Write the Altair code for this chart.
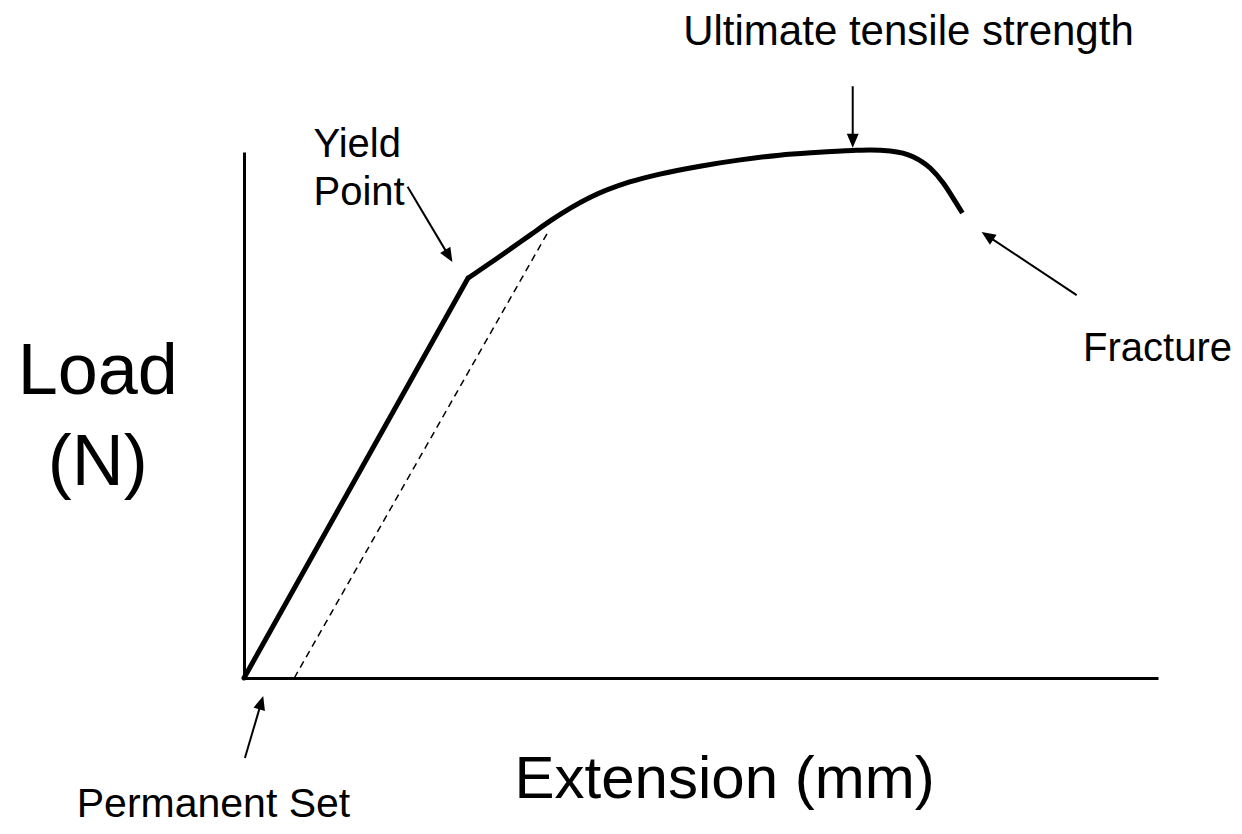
import math
import altair as alt
import pandas as pd

# ---------------- data (in chart units: extension 0-10, load 0-100) ----------------
# elastic (straight) part up to the yield point
elastic_ext = [0.0, 2.45]
elastic_load = [0.0, 76.0]
# plastic part from the yield point to fracture
plastic_ext = [2.45, 2.77, 3.13, 3.35, 3.79, 4.22, 4.55, 4.99, 5.43, 5.86,
               6.25, 6.66, 6.85, 7.07, 7.32, 7.51, 7.65, 7.76, 7.86]
plastic_load = [76.0, 79.8, 84.2, 86.9, 91.4, 94.3, 95.8, 97.3, 98.5, 99.4,
                99.9, 100.3, 100.4, 100.2, 99.1, 96.9, 94.1, 91.2, 88.4]

offset_ext = [0.55, 3.33]
offset_load = [0.0, 84.9]

arrow_names = ["Yield", "UTS", "Fracture", "Permanent"]
arrow_tail_ext = [1.79, 6.66, 9.11, 0.01]
arrow_tail_load = [93.4, 112.5, 72.8, -15.2]
arrow_tip_ext = [2.28, 6.66, 8.07, 0.21]
arrow_tip_load = [79.1, 100.8, 84.8, -3.4]

label_texts = ["Ultimate tensile strength", "Yield\nPoint", "Fracture",
               "Permanent Set", "Load\n(N)", "Extension (mm)"]
label_ext = [7.27, 0.76, 9.18, -1.83, -1.60, 2.96]
label_load = [120.3, 99.0, 60.3, -26.4, 54.0, -22.8]

# ---------------- layout ----------------
W, H = 914, 526
X_DOMAIN = [0, 10]
Y_DOMAIN = [0, 100]
PX_X = W / (X_DOMAIN[1] - X_DOMAIN[0])
PX_Y = H / (Y_DOMAIN[1] - Y_DOMAIN[0])
FONT = "Liberation Sans"

xs = alt.Scale(domain=X_DOMAIN, nice=False, zero=False)
ys = alt.Scale(domain=Y_DOMAIN, nice=False, zero=False)
ax = alt.Axis(title=None, labels=False, ticks=False, grid=False,
              domainColor="black", domainWidth=3)


def X(field):
    return alt.X(field, type="quantitative", scale=xs, axis=ax)


def Y(field):
    return alt.Y(field, type="quantitative", scale=ys, axis=ax)


elastic_df = pd.DataFrame({"ext": elastic_ext, "load": elastic_load})
elastic = alt.Chart(elastic_df).mark_line(
    color="black", strokeWidth=5, strokeCap="round", clip=False
).encode(x=X("ext"), y=Y("load"))

plastic_df = pd.DataFrame({"ext": plastic_ext, "load": plastic_load})
plastic = alt.Chart(plastic_df).mark_line(
    color="black", strokeWidth=5, strokeCap="butt", interpolate="monotone", clip=False
).encode(x=X("ext"), y=Y("load"))

offset = alt.Chart(pd.DataFrame({"ext": offset_ext, "load": offset_load})).mark_line(
    color="black", strokeWidth=1.5, strokeDash=[7, 5], clip=False
).encode(x=X("ext"), y=Y("load"))

# arrows: shaft + head
HEAD = 14.0
rows = []
for name, tx, ty, hx, hy in zip(arrow_names, arrow_tail_ext, arrow_tail_load,
                                arrow_tip_ext, arrow_tip_load):
    dxp = (hx - tx) * PX_X
    dyp = -(hy - ty) * PX_Y
    L = math.hypot(dxp, dyp)
    ux, uy = dxp / L, dyp / L
    ang = math.degrees(math.atan2(ux, -uy)) % 360
    ex = hx - ux * (HEAD - 2) / PX_X
    ey = hy + uy * (HEAD - 2) / PX_Y
    rows.append({"name": name, "x": tx, "y": ty, "x2": ex, "y2": ey,
                 "hx": hx, "hy": hy, "angle": ang})
arrow_df = pd.DataFrame(rows)

shafts = alt.Chart(arrow_df).mark_rule(color="black", strokeWidth=2).encode(
    x=X("x"), y=Y("y"), x2="x2:Q", y2="y2:Q")
heads = alt.Chart(arrow_df).mark_point(
    shape="M0,0 L-0.85,2 L0.85,2 Z", filled=True, fill="black", stroke=None,
    opacity=1, size=HEAD * HEAD
).encode(x=X("hx"), y=Y("hy"),
         angle=alt.Angle("angle:Q", scale=None))


def label(i, size, align, line_height=None):
    df = pd.DataFrame({"t": [label_texts[i]], "ext": [label_ext[i]],
                       "load": [label_load[i]]})
    kw = dict(font=FONT, fontSize=size, align=align, baseline="alphabetic",
              color="black", lineBreak="\n")
    if line_height:
        kw["lineHeight"] = line_height
    return alt.Chart(df).mark_text(**kw).encode(x=X("ext"), y=Y("load"), text="t:N")


texts = [
    label(0, 42, "center"),
    label(1, 40, "left", 48),
    label(2, 40, "left"),
    label(3, 41, "left"),
    label(4, 72, "center", 91),
    label(5, 60, "left"),
]

pad_left, pad_top = 236, 144
chart = alt.layer(elastic, plastic, offset, shafts, heads, *texts).properties(
    width=W, height=H,
    padding={"left": pad_left, "top": pad_top,
             "right": 1226 - pad_left - W, "bottom": 818 - pad_top - H},
    autosize=alt.AutoSizeParams(type="none"),
    background="white",
).configure_view(stroke=None)

chart.save("out.html", embed_options={"renderer": "svg", "actions": False})
